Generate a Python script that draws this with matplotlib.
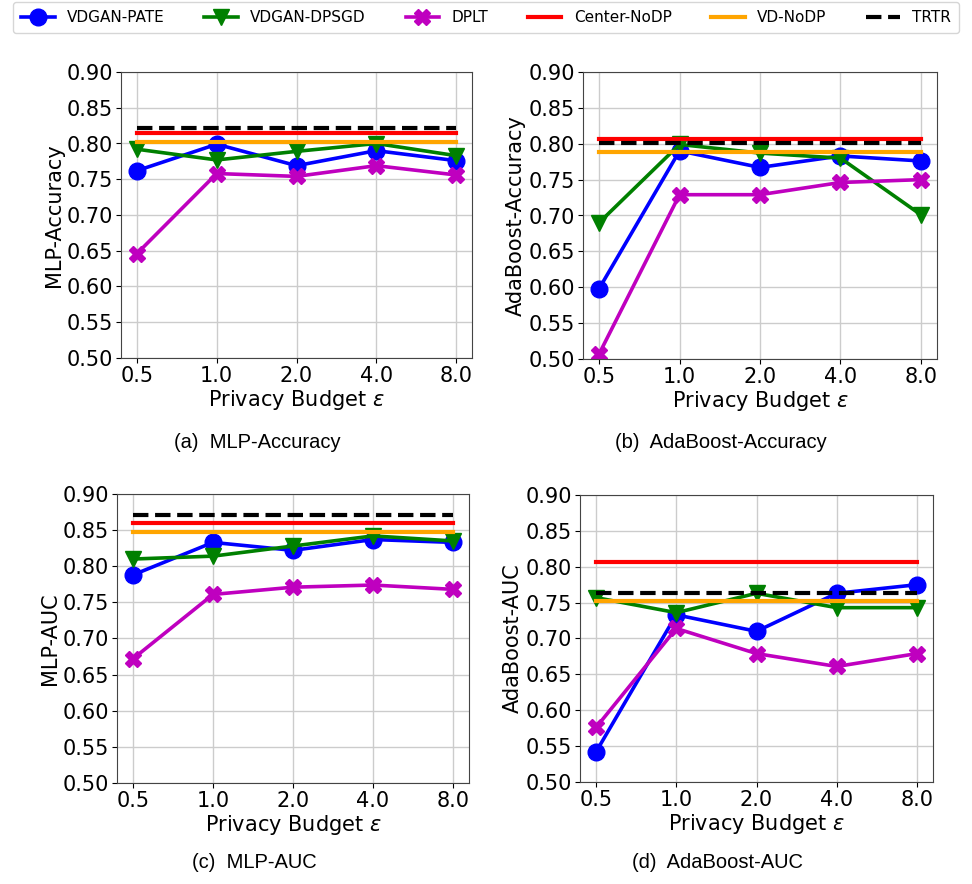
import numpy as np
import matplotlib
matplotlib.use("Agg")
import matplotlib.pyplot as plt

# ------------------ DATA ------------------

eps_labels = ["0.5", "1.0", "2.0", "4.0", "8.0"]

# (a) MLP-Accuracy
mlp_acc_pate = [0.762, 0.799, 0.769, 0.790, 0.776]
mlp_acc_dpsgd = [0.792, 0.777, 0.789, 0.800, 0.783]
mlp_acc_dplt = [0.646, 0.758, 0.754, 0.769, 0.756]
mlp_acc_center, mlp_acc_vd, mlp_acc_trtr = 0.814, 0.802, 0.822

# (b) AdaBoost-Accuracy
ada_acc_pate = [0.598, 0.790, 0.767, 0.783, 0.776]
ada_acc_dpsgd = [0.690, 0.799, 0.787, 0.780, 0.701]
ada_acc_dplt = [0.507, 0.729, 0.729, 0.746, 0.750]
ada_acc_center, ada_acc_vd, ada_acc_trtr = 0.806, 0.789, 0.801

# (c) MLP-AUC
mlp_auc_pate = [0.788, 0.833, 0.822, 0.837, 0.833]
mlp_auc_dpsgd = [0.810, 0.814, 0.828, 0.842, 0.835]
mlp_auc_dplt = [0.672, 0.761, 0.771, 0.774, 0.768]
mlp_auc_center, mlp_auc_vd, mlp_auc_trtr = 0.860, 0.848, 0.871

# (d) AdaBoost-AUC
ada_auc_pate = [0.542, 0.733, 0.710, 0.763, 0.775]
ada_auc_dpsgd = [0.757, 0.736, 0.763, 0.743, 0.743]
ada_auc_dplt = [0.576, 0.714, 0.679, 0.661, 0.679]
ada_auc_center, ada_auc_vd, ada_auc_trtr = 0.807, 0.752, 0.764

panels = [
    ("MLP-Accuracy", "(a)  MLP-Accuracy", mlp_acc_pate, mlp_acc_dpsgd, mlp_acc_dplt,
     mlp_acc_center, mlp_acc_vd, mlp_acc_trtr),
    ("AdaBoost-Accuracy", "(b)  AdaBoost-Accuracy", ada_acc_pate, ada_acc_dpsgd, ada_acc_dplt,
     ada_acc_center, ada_acc_vd, ada_acc_trtr),
    ("MLP-AUC", "(c)  MLP-AUC", mlp_auc_pate, mlp_auc_dpsgd, mlp_auc_dplt,
     mlp_auc_center, mlp_auc_vd, mlp_auc_trtr),
    ("AdaBoost-AUC", "(d)  AdaBoost-AUC", ada_auc_pate, ada_auc_dpsgd, ada_auc_dplt,
     ada_auc_center, ada_auc_vd, ada_auc_trtr),
]

# axes boxes in pixels: left, top, right, bottom
W, H = 972, 884
boxes = [(121, 72, 472, 358), (583, 72, 937, 359),
         (117, 494, 469, 783), (580, 495, 933, 782)]
cap_y = [443, 443, 863, 863]

# ------------------ PLOT ------------------

fig = plt.figure(figsize=(W / 100, H / 100), dpi=100)
x = np.arange(len(eps_labels))

for (ylab, cap, pate, dpsgd, dplt, center, vd, trtr), (l, t, r, b), cy in zip(panels, boxes, cap_y):
    ax = fig.add_axes([l / W, 1 - b / H, (r - l) / W, (b - t) / H])
    ax.plot(x, pate, color="blue", marker="o", markersize=12, lw=2.6, label="VDGAN-PATE")
    ax.plot(x, dpsgd, color="green", marker="v", markersize=12, lw=2.6, label="VDGAN-DPSGD")
    ax.plot(x, dplt, color="m", marker="X", markersize=12, lw=2.6, label="DPLT")
    ax.plot(x, [center] * len(x), color="red", lw=3, label="Center-NoDP")
    ax.plot(x, [vd] * len(x), color="orange", lw=3, label="VD-NoDP")
    ax.plot(x, [trtr] * len(x), color="black", lw=3, ls="--", label="TRTR")

    ax.set_ylim(0.5, 0.9)
    ax.set_yticks(np.arange(0.5, 0.901, 0.05))
    ax.set_yticklabels([f"{v:.2f}" for v in np.arange(0.5, 0.901, 0.05)])
    ax.set_xlim(-0.2, 4.2)
    ax.set_xticks(x)
    ax.set_xticklabels(eps_labels)
    ax.tick_params(labelsize=15, pad=2)
    ax.grid(True, color="#cccccc", lw=1)
    ax.set_axisbelow(True)
    ax.set_xlabel(r"Privacy Budget $\epsilon$", fontsize=15, labelpad=2)
    ax.set_ylabel(ylab, fontsize=15, labelpad=2)
    for s in ax.spines.values():
        s.set_color("#444444")

    fig.text(((l + r) / 2 - 39) / W, 1 - cy / H, cap, ha="center", va="center",
             fontsize=14.5, family="Liberation Sans")

handles, labels = ax.get_legend_handles_labels()
fig.legend(handles, labels, loc="upper center", ncol=6, bbox_to_anchor=(0.5, 1.006),
           fontsize=11, frameon=True, handlelength=2.2, columnspacing=2.6,
           borderpad=0.5, fancybox=True, edgecolor="#cccccc")

plt.savefig("out.png", dpi=100)
plt.close()
